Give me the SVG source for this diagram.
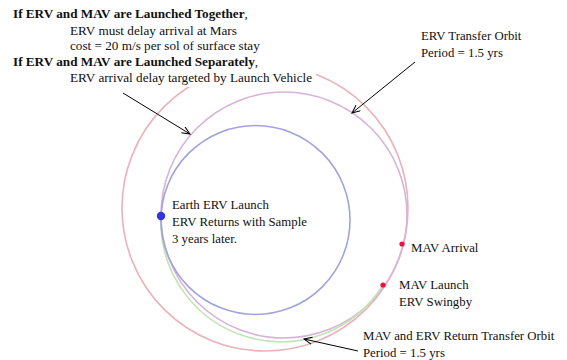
<svg xmlns="http://www.w3.org/2000/svg" width="567" height="360" viewBox="0 0 567 360">
  <defs>
    <marker id="arr" markerWidth="10" markerHeight="10" refX="9" refY="4" orient="auto" markerUnits="userSpaceOnUse">
      <path d="M1,0.5 L9,4 L1,7.5" fill="none" stroke="#000" stroke-width="1"/>
    </marker>
  </defs>
  <style>
    text { font-family: "Liberation Serif", "Times New Roman", serif; font-size: 12.8px; fill: #111; }
    .n { font-size: 13.2px; }
    .b { font-weight: bold; }
    .orbit { fill: none; stroke-width: 1.6; }
    .conn { stroke: #000; stroke-width: 1; fill: none; marker-end: url(#arr); }
  </style>
  <rect width="567" height="360" fill="#fff"/>

  <g id="mars-orbit"><circle class="orbit" cx="265" cy="208" r="143" stroke="#ebb2b8"/></g>
  <g id="erv-transfer-orbit"><circle class="orbit" cx="284" cy="215" r="123" stroke="#d8b2d8"/></g>
  <g id="return-transfer-orbit"><path class="orbit" d="M161,221 A120,120 0 0 0 383,285" stroke="#c0e4b4"/></g>
  <g id="earth-orbit"><circle class="orbit" cx="255.5" cy="220" r="94.5" stroke="#a2a2dc"/></g>

  <rect x="0" y="0" width="316" height="87" fill="#fff"/>

  <g id="notes">
    <text x="13" y="18" class="n b">If ERV and MAV are Launched Together<tspan font-weight="normal">,</tspan></text>
    <text x="70" y="35" class="n">ERV must delay arrival at Mars</text>
    <text x="70" y="50" class="n">cost = 20 m/s per sol of surface stay</text>
    <text x="13" y="66" class="n b">If ERV and MAV are Launched Separately<tspan font-weight="normal">,</tspan></text>
    <text x="70" y="82" class="n">ERV arrival delay targeted by Launch Vehicle</text>
  </g>

  <g id="erv-transfer-label">
    <text x="421" y="40">ERV Transfer Orbit</text>
    <text x="421" y="57">Period = 1.5 yrs</text>
  </g>

  <g id="earth-launch">
    <circle cx="161" cy="216" r="4.2" fill="#3434e0"/>
    <text x="172" y="209">Earth ERV Launch</text>
    <text x="172" y="226">ERV Returns with Sample</text>
    <text x="172" y="243">3 years later.</text>
  </g>

  <g id="mav-arrival">
    <circle cx="402" cy="244" r="2.6" fill="#f0103c"/>
    <text x="411" y="252">MAV Arrival</text>
  </g>

  <g id="mav-launch">
    <circle cx="383" cy="285" r="2.6" fill="#f0103c"/>
    <text x="399" y="289">MAV Launch</text>
    <text x="399" y="306">ERV Swingby</text>
  </g>

  <g id="return-label">
    <text x="363" y="340">MAV and ERV Return Transfer Orbit</text>
    <text x="363" y="357">Period = 1.5 yrs</text>
  </g>

  <g id="connectors">
    <line class="conn" x1="123" y1="93" x2="190" y2="134"/>
    <line class="conn" x1="415" y1="62" x2="352" y2="113"/>
    <line class="conn" x1="358" y1="351" x2="304" y2="339"/>
  </g>
</svg>
